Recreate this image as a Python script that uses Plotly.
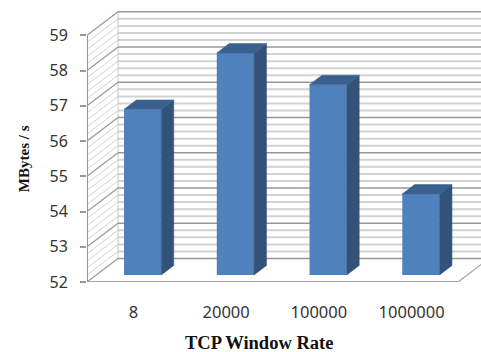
import plotly.graph_objects as go

categories = ["8", "20000", "100000", "1000000"]
values = [56.7, 58.3, 57.4, 54.3]
y_ticks = [52, 53, 54, 55, 56, 57, 58, 59]
minor_gridlines = [52 + i * 0.2 for i in range(36)]

W, H = 481, 352
L, B, T = 87, 281.7, 2
PX_X = 92.75
PX_Y = 35.2
DX = 31 / PX_X
DY = 23.5 / PX_Y
X0 = -0.5
X1 = 3.5
Y0 = 52
Y1 = Y0 + (B - T) / PX_Y
BAR_W = 37.3 / PX_X
T_FRONT, T_BACK = 0.3, 0.7
BLUE, TOP_C, SIDE_C = "#4f81bd", "#3a6090", "#325279"
MAJOR, MINOR = "#979797", "#d2d2d2"

fig = go.Figure()
shapes = []


def seg(x0, y0, x1, y1, color, width):
    shapes.append(dict(type="line", xref="x", yref="y", x0=x0, y0=y0, x1=x1, y1=y1,
                       layer="below", line=dict(color=color, width=width)))


def poly(xs, ys, color):
    fig.add_trace(go.Scatter(x=xs, y=ys, mode="lines", fill="toself", fillcolor=color,
                             line=dict(color=color, width=0.5), hoverinfo="skip", showlegend=False))


for v in minor_gridlines:
    if abs(v - round(v)) > 1e-6:
        seg(X0, v, X0 + DX, v + DY, MINOR, 1)
        seg(X0 + DX, v + DY, X1 + DX, v + DY, MINOR, 2)
seg(X0 + DX, Y0 + DY, X0 + DX, y_ticks[-1] + DY, "#c8c8c8", 1)
for v in y_ticks:
    seg(X0, v, X0 + DX, v + DY, MAJOR, 1.2)
    seg(X0 + DX, v + DY, X1 + DX, v + DY, MAJOR, 1.6)
seg(X1, Y0, X1 + DX, Y0 + DY, "#a8a8a8", 1.3)
seg(X0, Y0, X1, Y0, "#a0a0a0", 2)
seg(X0, Y0, X0, y_ticks[-1], MAJOR, 2)

fx = [i + T_FRONT * DX for i in range(len(values))]
base = Y0 + T_FRONT * DY
dep_x = (T_BACK - T_FRONT) * DX
dep_y = (T_BACK - T_FRONT) * DY

fig.add_trace(go.Bar(x=fx, y=[v - Y0 for v in values], base=base, width=BAR_W,
                     marker=dict(color=BLUE, line=dict(width=0)), showlegend=False, hoverinfo="skip"))

for x, v in zip(fx, values):
    top = v + T_FRONT * DY
    r = x + BAR_W / 2
    l = x - BAR_W / 2
    poly([r, r + dep_x, r + dep_x, r, r], [base, base + dep_y, top + dep_y, top, base], SIDE_C)
    poly([l, r, r + dep_x, l + dep_x, l], [top, top, top + dep_y, top + dep_y, top], TOP_C)

pw, ph = W - L, B - T
fig.update_layout(
    width=W, height=H, autosize=False, paper_bgcolor="white", plot_bgcolor="white",
    margin=dict(l=L, r=0, t=T, b=H - B),
    font=dict(family="Noto Sans", size=16, color="#333333"),
    showlegend=False, shapes=shapes,
    xaxis=dict(range=[X0, X0 + (W - L) / PX_X], tickmode="array", tickvals=list(range(4)),
               ticktext=categories, ticks="", showgrid=False, zeroline=False, showline=False,
               ticklabelstandoff=18, automargin=False, tickfont=dict(size=16.5, color="#333333")),
    yaxis=dict(range=[Y0, Y1], tickmode="array", tickvals=y_ticks, ticks="outside", ticklen=6,
               tickwidth=1.5, tickcolor=MAJOR, showgrid=False, zeroline=False, showline=False,
               ticklabelstandoff=9, automargin=False, tickfont=dict(size=16, color="#333333")),
    annotations=[
        dict(text="<b>TCP Window Rate</b>", x=(258.5 - L) / pw, y=(B - 343) / ph, xref="paper", yref="paper",
             xanchor="center", yanchor="middle",
             showarrow=False, font=dict(family="Liberation Serif", size=18.5, color="#111111")),
        dict(text="<b>MBytes / s</b>", textangle=-90, x=(24 - L) / pw, y=(B - 159) / ph, xref="paper", yref="paper",
             xanchor="center", yanchor="middle",
             showarrow=False, font=dict(family="Liberation Serif", size=15, color="#111111")),
    ],
)
fig.write_html("out.html", post_script="document.body.style.margin='0';", config=dict(displayModeBar=False))
